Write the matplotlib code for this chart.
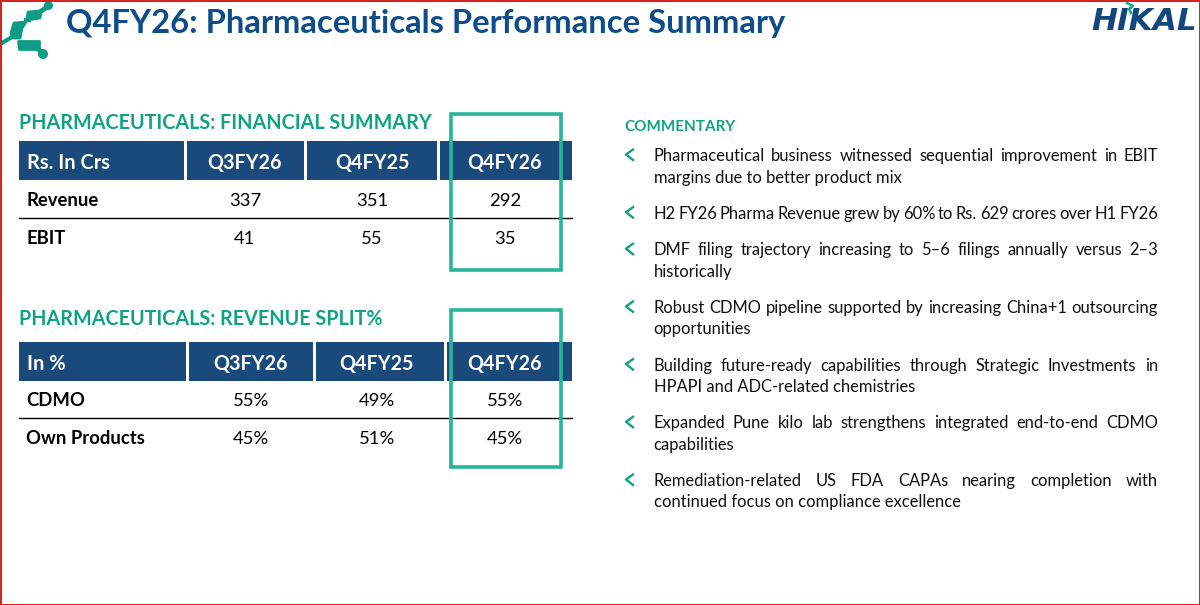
import matplotlib
matplotlib.use('Agg')
import matplotlib.pyplot as plt
from matplotlib.patches import Rectangle, Polygon, Circle

plt.rcParams['font.family'] = ['Lato', 'DejaVu Sans']

NAVY = '#1a4a7c'
TITLE = '#0f4c8a'
TEAL = '#0fa383'
BOX = '#27b49b'

title = 'Q4FY26: Pharmaceuticals Performance Summary'
fin_heading = 'PHARMACEUTICALS: FINANCIAL SUMMARY'
fin_header = ['Rs. In Crs', 'Q3FY26', 'Q4FY25', 'Q4FY26']
fin_rows = ['Revenue', 'EBIT']
fin_revenue = [337, 351, 292]
fin_ebit = [41, 55, 35]

split_heading = 'PHARMACEUTICALS: REVENUE SPLIT%'
split_header = ['In %', 'Q3FY26', 'Q4FY25', 'Q4FY26']
split_rows = ['CDMO', 'Own Products']
split_cdmo = ['55%', '49%', '55%']
split_own = ['45%', '51%', '45%']

comment_heading = 'COMMENTARY'
commentary = [
    ['Pharmaceutical business witnessed sequential improvement in EBIT', 'margins due to better product mix'],
    ['H2 FY26 Pharma Revenue grew by 60% to Rs. 629 crores over H1 FY26'],
    ['DMF filing trajectory increasing to 5\u20136 filings annually versus 2\u20133', 'historically'],
    ['Robust CDMO pipeline supported by increasing China+1 outsourcing', 'opportunities'],
    ['Building future-ready capabilities through Strategic Investments in', 'HPAPI and ADC-related chemistries'],
    ['Expanded Pune kilo lab strengthens integrated end-to-end CDMO', 'capabilities'],
    ['Remediation-related US FDA CAPAs nearing completion with', 'continued focus on compliance excellence'],
]

fig = plt.figure(figsize=(12, 6.05), dpi=100)
ax = fig.add_axes([0, 0, 1, 1])
ax.set_xlim(0, 1200)
ax.set_ylim(605, 0)
ax.axis('off')

# red screenshot border
for r in [(0, 0, 1200, 1.5), (0, 0, 1.5, 605), (1198.5, 0, 1.5, 605), (0, 603.5, 1200, 1.5)]:
    ax.add_patch(Rectangle(r[:2], r[2], r[3], color='#d9231f', lw=0, zorder=5))

# corner logo, rounded blobs
LOGO = '#0e9c85'
for pts in [[(28, 12), (41, 11), (40, 18), (27, 20)],
            [(14, 23), (26, 22), (22, 28), (20, 38), (13, 38), (11, 33)],
            [(18, 41), (39, 41), (39, 49), (19, 49)]]:
    ax.add_patch(Polygon(pts, closed=True, fc=LOGO, ec=LOGO, lw=2, joinstyle='round'))
ax.plot([40, 47], [12, 7], color=LOGO, lw=3.5)
ax.plot([2, 12], [43, 37], color=LOGO, lw=3)
ax.plot([38, 43], [49, 54], color=LOGO, lw=3.5)
ax.plot([26, 29], [20, 20], color=LOGO, lw=3)
ax.add_patch(Circle((48.5, 5.5), 4.5, fc=LOGO, ec='none'))
ax.add_patch(Circle((43, 54), 5, fc=LOGO, ec='none'))

ax.text(66, 24, title, fontsize=23.6, fontweight='bold', color=TITLE, ha='left', va='center')

# hikal wordmark
ax.text(1144, 21.5, 'HIKAL', fontsize=22.4, fontweight='bold', style='oblique', family='DejaVu Sans',
        color='#12467f', ha='center', va='center')
ax.plot([1127, 1133, 1129, 1131], [3, 6, 9, 13], color='#1aa88c', lw=1.8)


def table(heading, head_y, header, edges, centres, rows, cells, rule_y, row_ys, box_y, heading_y):
    ax.text(19, heading_y, heading, fontsize=14.2, fontweight='bold', color=TEAL, ha='left', va='center')
    for i, (x0, x1) in enumerate(edges):
        ax.add_patch(Rectangle((x0, head_y), x1 - x0, 39, fc=NAVY, ec='none'))
        if i == 0:
            ax.text(27, head_y + 22, header[i], fontsize=14.4, fontweight='bold', color='white', ha='left', va='center')
        else:
            ax.text(centres[i - 1], head_y + 22, header[i], fontsize=14.2, fontweight='bold', color='white',
                    ha='center', va='center')
    ax.plot([19, 572], [rule_y, rule_y], color='black', lw=1)
    for name, vals, y in zip(rows, cells, row_ys):
        ax.text(26, y, name, fontsize=13.3, fontweight='bold', color='black', ha='left', va='center')
        for v, c in zip(vals, centres):
            ax.text(c, y, str(v), fontsize=13.3, color='black', ha='center', va='center')
    ax.add_patch(Rectangle((451, box_y[0]), 110, box_y[1] - box_y[0], fc='none', ec=BOX, lw=2.6, zorder=4))


table(fin_heading, 141, fin_header, [(19, 184), (187, 304), (307, 437), (440, 572)], [245, 372, 505], fin_rows,
      [fin_revenue, fin_ebit], 217.5, [200.5, 238.5], (114, 270), 123)
table(split_heading, 342, split_header, [(19, 186), (189, 313), (316, 444), (447, 572)], [251, 377, 505], split_rows,
      [split_cdmo, split_own], 418, [401, 439], (310, 467), 319)

ax.text(624.5, 127, comment_heading, fontsize=11, fontweight='bold', color=TEAL, ha='left', va='center')

LEFT, RIGHT = 653.5, 1158
TEXT_SIZE = 11.9
renderer = fig.canvas.get_renderer()


def put_line(line, y, justify):
    if not justify:
        ax.text(LEFT, y, line, fontsize=TEXT_SIZE, color='#111111', ha='left', va='center')
        return
    # word by word so both edges line up
    words = line.split(' ')
    parts = [ax.text(LEFT, y, w, fontsize=TEXT_SIZE, color='#111111', ha='left', va='center') for w in words]
    widths = [p.get_window_extent(renderer).width for p in parts]
    gap = (RIGHT - LEFT - sum(widths)) / (len(words) - 1)
    x = LEFT
    for p, w in zip(parts, widths):
        p.set_x(x)
        x += w + gap


y = 156
for item in commentary:
    ax.plot([633, 626, 633], [y - 6.5, y - 1.5, y + 4], color=TEAL, lw=1.7)
    for k, line in enumerate(item):
        put_line(line, y + k * 21.5, k == 0)
    y += 57.7 if len(item) > 1 else 36.5

fig.savefig('out.png', dpi=100)
